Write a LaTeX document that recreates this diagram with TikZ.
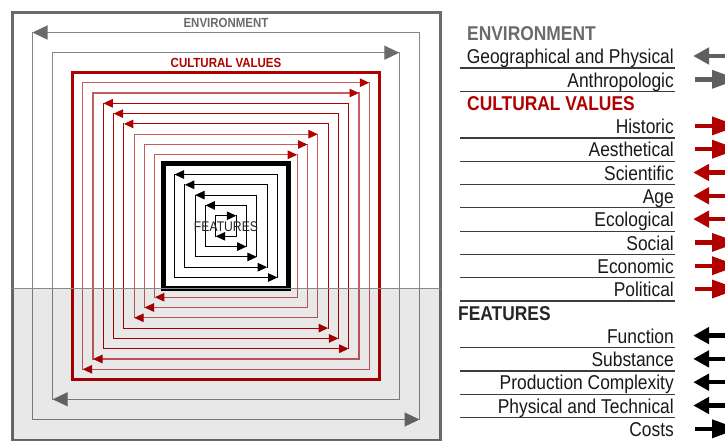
\documentclass[tikz,border=0pt]{standalone}
\usepackage{fontspec}
\setmainfont[FakeStretch=0.87]{Liberation Sans}
\usetikzlibrary{arrows.meta}
\definecolor{envgray}{HTML}{6B6B6B}
\definecolor{loopgray}{HTML}{858585}
\definecolor{arrgray}{HTML}{5F5F5F}
\definecolor{cred}{HTML}{B00000}
\definecolor{lred}{HTML}{CC5A5A}
\definecolor{rulegray}{HTML}{3C3C3C}
\newcommand{\myloop}[5]{%
  \pgfmathsetmacro\myA{226-#1}\pgfmathsetmacro\myB{226+#1}%
  \draw[#3] (\myA,\myA) -- (\myA,\myB) (\myB,\myA) -- (\myB,\myB);
  \ifnum#2=1
    \draw[#3,-{Triangle[#5,color=#4]}] (\myB,\myA) -- (\myA,\myA);
    \draw[#3,-{Triangle[#5,color=#4]}] (\myA,\myB) -- (\myB,\myB);
  \else
    \draw[#3,-{Triangle[#5,color=#4]}] (\myA,\myA) -- (\myB,\myA);
    \draw[#3,-{Triangle[#5,color=#4]}] (\myB,\myB) -- (\myA,\myB);
  \fi}
\newcommand{\legarrow}[3]{% y, dir (1=left), colour
  \ifnum#2=1
    \fill[#3] (707,#1-2.2) rectangle (730,#1+2.2);
    \fill[#3] (693.5,#1) -- (709,#1-8.7) -- (709,#1+8.7) -- cycle;
  \else
    \fill[#3] (695,#1-2.2) rectangle (713,#1+2.2);
    \fill[#3] (712,#1-9.5) -- (738,#1) -- (712,#1+9.5) -- cycle;
  \fi}
\tikzset{
  legtext/.style={font=\fontsize{20}{24}\selectfont, inner sep=0pt},
  leghead/.style={font=\fontsize{20}{24}\selectfont\bfseries, inner sep=0pt, anchor=base west},
  rule/.style={rulegray, line width=1.2pt},
  inlabel/.style={font=\fontsize{13.5}{16}\selectfont, inner sep=0pt}
}
\begin{document}
\begin{tikzpicture}[x=1pt,y=-1pt,line cap=rect]
\useasboundingbox (0,0) rectangle (725,440);
\clip (0,0) rectangle (725,440);
\fill[white] (0,0) rectangle (725,440);

% outer frame
\draw[envgray, line width=3pt] (12,12) rectangle (440,440);

% environment loops
\myloop{193.5}{1}{loopgray,line width=1.3pt}{envgray}{length=15pt,width=14pt}
\myloop{173.3}{0}{loopgray,line width=1.3pt}{envgray}{length=15pt,width=14pt}

% cultural values frame
\draw[cred, line width=3pt] (72.8,72.8) rectangle (379.2,379.2);
% red loops
\myloop{143.3}{0}{lred,line width=1.1pt}{cred}{length=9.5pt,width=8.5pt}
\myloop{133.0}{0}{lred,line width=1.1pt}{cred}{length=9.5pt,width=8.5pt}
\myloop{122.7}{1}{cred,line width=1.1pt}{cred}{length=9.5pt,width=8.5pt}
\myloop{112.4}{1}{cred,line width=1.1pt}{cred}{length=9.5pt,width=8.5pt}
\myloop{102.1}{1}{cred,line width=1.1pt}{cred}{length=9.5pt,width=8.5pt}
\myloop{91.8}{0}{lred,line width=1.1pt}{cred}{length=9.5pt,width=8.5pt}
\myloop{81.5}{0}{lred,line width=1.1pt}{cred}{length=9.5pt,width=8.5pt}
\myloop{71.2}{0}{lred,line width=1.1pt}{cred}{length=9.5pt,width=8.5pt}

% features frame
\draw[black, line width=4.5pt] (163.5,163.5) rectangle (288.5,288.5);
\myloop{51.5}{1}{black,line width=1.1pt}{black}{length=9.5pt,width=8.5pt}
\myloop{41.2}{1}{black,line width=1.1pt}{black}{length=9.5pt,width=8.5pt}
\myloop{30.9}{1}{black,line width=1.1pt}{black}{length=9.5pt,width=8.5pt}
\myloop{20.6}{1}{black,line width=1.1pt}{black}{length=9.5pt,width=8.5pt}
\myloop{10.3}{0}{black,line width=1.1pt}{black}{length=9.5pt,width=8.5pt}

% labels in diagram
\node[inlabel, text=envgray, font=\fontsize{13.2}{16}\selectfont\bfseries] (envlab) at (226,23) {ENVIRONMENT};
\node[inlabel, text=cred, font=\fontsize{13.2}{16}\selectfont\bfseries] (cvlab) at (226,63) {CULTURAL VALUES};
\node[inlabel, text=black!85, font=\fontsize{14}{16}\selectfont] (featlab) at (226,227) {FEATURES};

% lower shaded half
\fill[black, opacity=0.09] (12,288) rectangle (440,440);
\draw[envgray!80, line width=1pt] (12,288) -- (440,288);

% legend headings
\node[leghead, text=envgray] (hEnv) at (467,40.5) {ENVIRONMENT};
\node[leghead, text=cred] (hCV) at (467,110.3) {CULTURAL VALUES};
\node[leghead, text=black!85] (hFeat) at (458,320) {FEATURES};

% legend rows
\foreach \k/\d/\c/\t in {0/1/arrgray/Geographical and Physical,
  1/0/arrgray/Anthropologic,
  3/0/cred/Historic, 4/0/cred/Aesthetical, 5/1/cred/Scientific,
  6/1/cred/Age, 7/1/cred/Ecological, 8/0/cred/Social,
  9/0/cred/Economic, 10/0/cred/Political,
  12/1/black/Function, 13/1/black/Substance,
  14/1/black/Production Complexity, 15/1/black/Physical and Technical,
  16/0/black/Costs}{
  \pgfmathsetmacro\ly{68+23.3*\k}
  \pgfmathsetmacro\ay{\ly-12}
  \pgfmathsetmacro\by{\ly-4.3}
  \node[legtext, anchor=base east, text=black!90] (row\k) at (674,\by) {\t};
  \ifnum\k<16 \draw[rule] (461,\ly) -- (674,\ly); \fi
  \legarrow{\ay}{\d}{\c}
}
\end{tikzpicture}
\end{document}
